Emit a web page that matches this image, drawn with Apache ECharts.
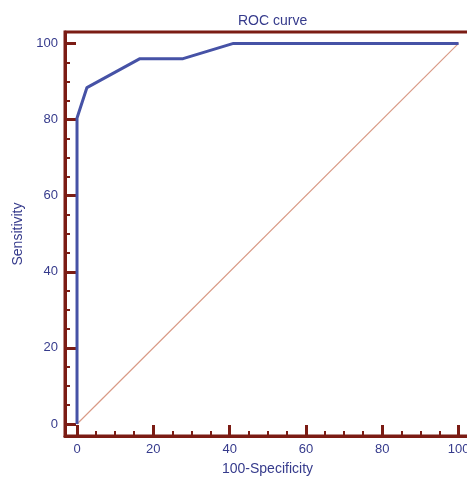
<!DOCTYPE html>
<html>
<head>
<meta charset="utf-8">
<script src="https://cdn.jsdelivr.net/npm/echarts@6/dist/echarts.min.js"></script>
<style>
	html, body { margin: 0; padding: 0; background: #fff; }
	#rocChart { width: 467px; height: 478px; }
</style>
</head>
<body>
<div id="rocChart"></div>
<script>
// ROC 曲线数据
var rocX = [0, 0, 2.6, 16.5, 27.8, 41, 100];
var rocY = [0, 80.4, 88.4, 96, 96, 100, 100];
var refX = [0, 100];
var refY = [0, 100];
var majorTicks = [0, 20, 40, 60, 80, 100];
var minorTicks = [0, 5, 10, 15, 20, 25, 30, 35, 40, 45, 50, 55, 60, 65, 70, 75, 80, 85, 90, 95, 100];

var axisColor = '#7b1c14';
var textColor = '#363b8c';

function pairs(xs, ys) {
	var out = [];
	for (var i = 0; i < xs.length; i++) {
		out.push([xs[i], ys[i]]);
	}
	return out;
}

function mainAxis(name, pos, gap) {
	return {
		type: 'value',
		position: pos,
		min: -3.15,
		max: 103,
		name: name,
		nameLocation: 'middle',
		nameGap: gap,
		nameTextStyle: {
			color: textColor,
			fontSize: 14,
			fontFamily: 'Liberation Sans'
		},
		axisLine: {
			show: true,
			onZero: false,
			lineStyle: { color: axisColor, width: 3 }
		},
		axisTick: {
			show: true,
			inside: true,
			length: 11,
			customValues: majorTicks,
			lineStyle: { color: axisColor, width: 3 }
		},
		axisLabel: {
			show: true,
			margin: 7,
			color: textColor,
			fontSize: 13,
			fontFamily: 'Liberation Sans',
			customValues: majorTicks
		},
		splitLine: { show: false }
	};
}

function minorAxis(pos) {
	return {
		type: 'value',
		position: pos,
		min: -3.15,
		max: 103,
		axisLine: { show: false, onZero: false },
		axisTick: {
			show: true,
			inside: true,
			length: 5,
			customValues: minorTicks,
			lineStyle: { color: axisColor, width: 2 }
		},
		axisLabel: { show: false },
		splitLine: { show: false }
	};
}

var rocChart = echarts.init(document.getElementById('rocChart'));
rocChart.setOption({
	backgroundColor: '#ffffff',
	animation: false,
	title: {
		text: 'ROC curve',
		left: 233,
		top: 9,
		textStyle: {
			color: textColor,
			fontSize: 14,
			fontWeight: 'normal',
			fontFamily: 'Liberation Sans'
		}
	},
	grid: {
		left: 65,
		top: 32,
		right: -3,
		bottom: 42,
		containLabel: false,
		outerBoundsMode: 'none',
		show: true,
		borderColor: axisColor,
		borderWidth: 3
	},
	xAxis: [mainAxis('100-Specificity', 'bottom', 26), minorAxis('bottom')],
	yAxis: [mainAxis('Sensitivity', 'left', 37), minorAxis('left')],
	series: [{
			name: 'reference',
			type: 'line',
			data: pairs(refX, refY),
			symbol: 'none',
			lineStyle: { color: '#d99a86', width: 1.2 },
			z: 2
		},
		{
			name: 'ROC',
			type: 'line',
			data: pairs(rocX, rocY),
			symbol: 'none',
			lineStyle: { color: '#4652a6', width: 3 },
			z: 3
		}
	]
});
</script>
</body>
</html>
